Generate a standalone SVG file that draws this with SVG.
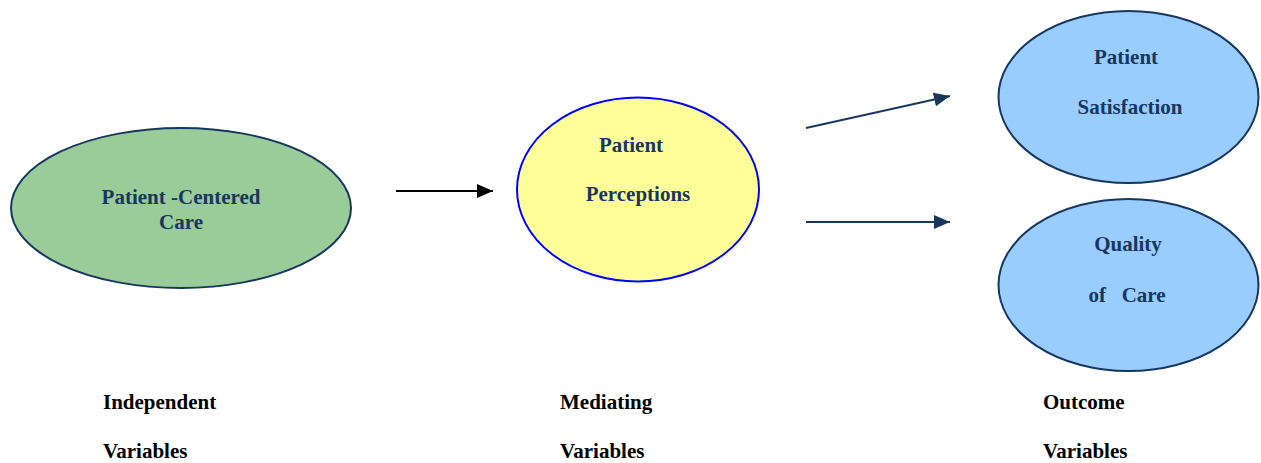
<svg xmlns="http://www.w3.org/2000/svg" width="1261" height="463" viewBox="0 0 1261 463">
<defs>
<style>
.nt{font-family:"Liberation Serif","Times New Roman",serif;font-weight:bold;font-size:21px;fill:#17375E;text-anchor:middle}
.lb{font-family:"Liberation Serif","Times New Roman",serif;font-weight:bold;font-size:21px;fill:#000}
</style>
<marker id="ab" viewBox="0 0 16 14" refX="16" refY="7" markerWidth="16" markerHeight="14" markerUnits="userSpaceOnUse" orient="auto"><path d="M0,0 L16,7 L0,14 z" fill="#000"/></marker>
<marker id="an" viewBox="0 0 16 14" refX="16" refY="7" markerWidth="16" markerHeight="14" markerUnits="userSpaceOnUse" orient="auto"><path d="M0,0 L16,7 L0,14 z" fill="#17375E"/></marker>
</defs>
<rect width="1261" height="463" fill="#fff"/>
<g id="connectors">
<line x1="396" y1="191" x2="493" y2="191" stroke="#000" stroke-width="2" marker-end="url(#ab)"/>
<line x1="806" y1="128" x2="950" y2="96" stroke="#17375E" stroke-width="2" marker-end="url(#an)"/>
<line x1="806" y1="222" x2="950" y2="222" stroke="#17375E" stroke-width="2" marker-end="url(#an)"/>
</g>
<g id="pcc">
<ellipse cx="181" cy="208" rx="170" ry="80" fill="#99CC99" stroke="#17375E" stroke-width="2"/>
<text class="nt" x="181" y="204">Patient -Centered</text>
<text class="nt" x="181" y="229">Care</text>
</g>
<g id="perceptions">
<ellipse cx="638" cy="189.5" rx="121" ry="92" fill="#FFFF99" stroke="#0000FF" stroke-width="2"/>
<text class="nt" x="631" y="152">Patient</text>
<text class="nt" x="638" y="201">Perceptions</text>
</g>
<g id="satisfaction">
<ellipse cx="1128.5" cy="97" rx="130" ry="86" fill="#99CCFF" stroke="#17375E" stroke-width="2"/>
<text class="nt" x="1126" y="64">Patient</text>
<text class="nt" x="1130" y="114">Satisfaction</text>
</g>
<g id="quality">
<ellipse cx="1128.5" cy="285" rx="130" ry="86" fill="#99CCFF" stroke="#17375E" stroke-width="2"/>
<text class="nt" x="1128" y="251">Quality</text>
<text class="nt" x="1127" y="302" xml:space="preserve">of   Care</text>
</g>
<g id="labels">
<text class="lb" x="103" y="409">Independent</text>
<text class="lb" x="103" y="458">Variables</text>
<text class="lb" x="560" y="409">Mediating</text>
<text class="lb" x="560" y="458">Variables</text>
<text class="lb" x="1043" y="409">Outcome</text>
<text class="lb" x="1043" y="458">Variables</text>
</g>
</svg>
